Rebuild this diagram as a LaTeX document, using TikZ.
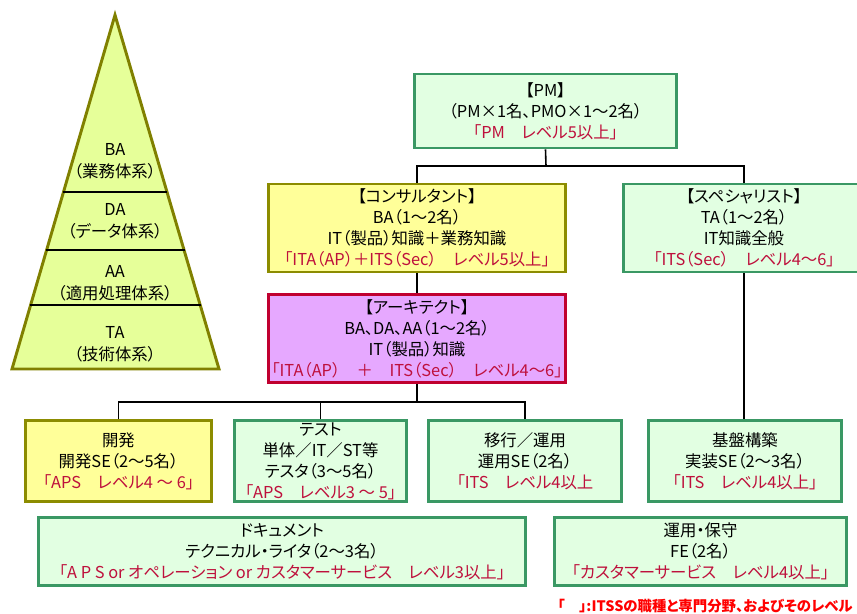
\documentclass[tikz,border=0pt]{standalone}
\usepackage{fontspec}
\setmainfont{Noto Sans CJK JP}[RawFeature=+palt]
\definecolor{gfill}{RGB}{226,255,226}
\definecolor{gline}{RGB}{58,152,100}
\definecolor{yfill}{RGB}{255,255,153}
\definecolor{yline}{RGB}{140,140,0}
\definecolor{pfill}{RGB}{230,168,255}
\definecolor{pline}{RGB}{192,0,48}
\definecolor{pyrfill}{RGB}{230,255,153}
\definecolor{pyrline}{RGB}{128,128,0}
\definecolor{lvred}{RGB}{190,16,60}
\newcommand\lv[1]{{\color{lvred}#1}}
\begin{document}
\begin{tikzpicture}[x=0.75pt,y=-0.75pt,
  box/.style={draw, line width=2.2pt, inner sep=0pt, align=center,
    font=\fontsize{12.3}{15.75}\selectfont},
  gbox/.style={box, draw=gline, fill=gfill},
  ybox/.style={box, draw=yline, fill=yfill},
  pbox/.style={box, draw=pline, fill=pfill},
  sz/.style 2 args={minimum width=#1*0.75pt, minimum height=#2*0.75pt},
  conn/.style={draw=black, line width=1.2pt},
  pyrtext/.style={align=center, inner sep=0pt, font=\fontsize{12.3}{16.5}\selectfont},
  divider/.style={draw=black, line width=0.8pt}]
\useasboundingbox (0,0) rectangle (857,614);

% pyramid
\draw[fill=pyrfill, draw=pyrline, line width=2.2pt, line join=miter] (115,15) -- (219,369) -- (12,369) -- cycle;
\draw[divider] (63,192) -- (167,192);
\draw[divider] (46,250) -- (184.5,250);
\draw[divider] (30,305) -- (201,305);
\node[pyrtext] (pba) at (115,161) {BA\\（業務体系）};
\node[pyrtext] (pda) at (115,221) {DA\\（データ体系）};
\node[pyrtext] (paa) at (115,283) {AA\\（適用処理体系）};
\node[pyrtext] (pta) at (115,344) {TA\\（技術体系）};

% boxes
\node[gbox, sz={262}{74}] (pm) at (545.5,111) {【PM】\\（PM×1名、PMO×1～2名）\\\lv{「PM　レベル5以上」}};
\node[ybox, sz={297}{88}] (cons) at (417,228) {【コンサルタント】\\BA（1～2名）\\IT（製品）知識＋業務知識\\\lv{「ITA（AP）＋ITS（Sec）　レベル5以上」}};
\node[gbox, sz={241}{88}] (spec) at (744,228) {【スペシャリスト】\\TA（1～2名）\\IT知識全般\\\lv{「ITS（Sec）　レベル4～6」}};
\node[pbox, sz={297}{88}] (arch) at (417,338.5) {【アーキテクト】\\BA、DA、AA（1～2名）\\IT（製品）知識\\\lv{「ITA（AP）　＋　ITS（Sec）　レベル4～6」}};

\node[ybox, sz={186}{81}] (dev) at (118.5,461) {開発\\開発SE（2～5名）\\\lv{「APS　レベル4 ～ 6」}};
\node[gbox, sz={172}{81}] (test) at (320.5,461) {テスト\\単体／IT／ST等\\テスタ（3～5名）\\\lv{「APS　レベル3 ～ 5」}};
\node[gbox, sz={193}{81}] (mig) at (525,461) {移行／運用\\運用SE（2名）\\\lv{「ITS　レベル4以上}};
\node[gbox, sz={193}{81}] (infra) at (745,461) {基盤構築\\実装SE（2～3名）\\\lv{「ITS　レベル4以上」}};

\node[gbox, sz={487}{68}] (doc) at (282,551.5) {ドキュメント\\テクニカル・ライタ（2～3名）\\\lv{「A P S or オペレーション or カスタマーサービス　レベル3以上」}};
\node[gbox, sz={292}{68}] (ops) at (700.5,551.5) {運用・保守\\FE（2名）\\\lv{「カスタマーサービス　レベル4以上」}};

\node[anchor=east, inner sep=0pt, text=red, font=\fontsize{10.8}{12}\selectfont\bfseries] (note) at (853,606) {「　」:ITSSの職種と専門分野、およびそのレベル};

% connectors
\coordinate (j1) at (546,166);
\coordinate (j2) at (417,402);
\draw[conn] (pm.south) -- (j1);
\draw[conn] (cons.north) |- (j1) -| (spec.north);
\draw[conn] (spec.south) -- (spec.south |- infra.north);
\draw[conn] (cons.south) -- (arch.north);
\draw[conn] (arch.south) -- (j2);
\draw[conn] (dev.north) |- (j2);
\draw[conn] (test.north) -- (test.north |- j2);
\draw[conn] (j2) -| (mig.north);
\end{tikzpicture}
\end{document}
